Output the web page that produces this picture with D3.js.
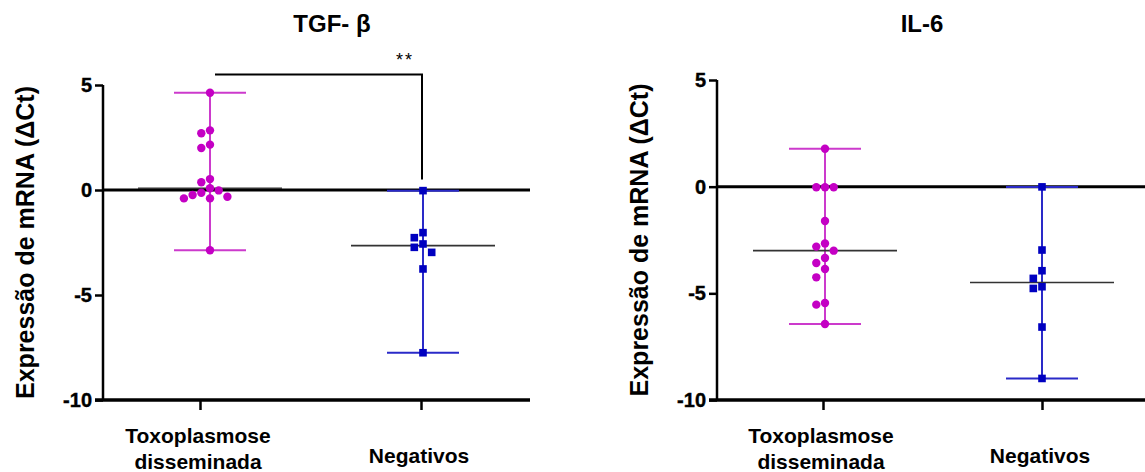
<!DOCTYPE html>
<html>
<head>
<meta charset="utf-8">
<script src="https://cdn.jsdelivr.net/npm/d3@7"></script>
<style>
  body { margin: 0; background: #fff; }
  svg text { font-family: "Liberation Sans", Arial, sans-serif; font-weight: bold; fill: #000; }
</style>
</head>
<body>
<svg width="1145" height="472"></svg>
<script>
// groups and tick labels
let categories = ['Toxoplasmose disseminada', 'Negativos'];
let yTicks = [5, 0, -5, -10];

// ΔCt values
let tgfTox = [4.63, 2.84, 2.70, 2.16, 2.00, 0.52, 0.37, 0.08, -0.02, -0.13, -0.24, -0.32, -0.40, -0.40, -2.87];
let tgfNeg = [-0.03, -2.03, -2.27, -2.57, -2.73, -2.97, -3.76, -7.75];
let il6Tox = [1.78, -0.03, -0.03, -0.03, -1.61, -2.66, -2.81, -3.00, -3.34, -3.58, -3.86, -4.25, -5.45, -5.53, -6.44];
let il6Neg = [-0.01, -2.97, -3.94, -4.30, -4.69, -4.77, -6.58, -8.99];

// significance bracket on the TGF panel: from group 0 to group 1
let tgfSig = { from: 0, to: 1, level: 5.5, drop: 0.5, label: '**' };

let svg = d3.select('svg');
let colors = ['#c400c4', '#0000c0'];
let lineColors = ['#cc3acc', '#2a2ac8'];

/**
 * draws one panel
 *
 * @param {Object} p panel layout and its series
 */
let drawPanel = (p) => {
    let g = svg.append('g');
    let y = d3.scaleLinear().domain([-10, 5]).range([400, p.yTop]);
    let x = d3.scalePoint().domain(categories).range(p.catRange);

    // title
    g.append('text').attr('x', p.titleX).attr('y', 32)
        .attr('text-anchor', 'middle').style('font-size', '24px').text(p.title);

    // y label
    g.append('text')
        .attr('transform', `translate(${p.axisX - 78}, ${(p.yTop + 400) / 2}) rotate(-90)`)
        .attr('text-anchor', 'middle').attr('dy', '0.35em')
        .style('font-size', '25px').text('Expressão de mRNA (ΔCt)');

    // y axis
    let yAxis = g.append('g').attr('transform', `translate(${p.axisX},0)`)
        .call(d3.axisLeft(y).tickValues(yTicks).tickSize(8).tickPadding(3).tickFormat(d => String(d)))
        .attr('font-family', null).attr('font-size', null);
    yAxis.select('.domain').attr('stroke-width', 2.5).attr('d', `M0,${p.yTop}V400`);
    yAxis.selectAll('.tick line').attr('stroke-width', 2.5);
    yAxis.selectAll('.tick text')
        .attr('font-family', '"Liberation Sans", Arial, sans-serif')
        .attr('font-weight', 'bold').attr('font-size', 20)
        .attr('stroke', '#000').attr('stroke-width', 0.4)
        .attr('fill', '#000');

    // x axis
    let xAxis = g.append('g').attr('transform', 'translate(0,400)')
        .call(d3.axisBottom(x).tickSize(10).tickFormat(''));
    xAxis.select('.domain').attr('stroke-width', 3.5).attr('d', `M${p.axisX - 8},0H${p.plotRight}`);
    xAxis.selectAll('.tick line').attr('stroke-width', 2.5);

    // category labels
    categories.forEach((c, i) => {
        let words = c.split(' ');
        let base = words.length > 1 ? 443 : 463;
        words.forEach((w, k) => {
            g.append('text').attr('x', x(c) - 2).attr('y', base + k * 26)
                .attr('text-anchor', 'middle').style('font-size', '21px').text(w);
        });
    });

    // zero line
    g.append('line').attr('x1', p.axisX).attr('x2', p.plotRight)
        .attr('y1', y(0)).attr('y2', y(0)).attr('stroke', '#000').attr('stroke-width', 3);

    p.series.forEach((vals, i) => {
        let cx = x(categories[i]) + p.colShift[i];
        let lo = d3.min(vals), hi = d3.max(vals), med = d3.median(vals);
        let col = g.append('g');
        col.append('line').attr('x1', cx).attr('x2', cx).attr('y1', y(hi)).attr('y2', y(lo))
            .attr('stroke', lineColors[i]).attr('stroke-width', 2);
        [hi, lo].forEach(v => col.append('line').attr('x1', cx - 36).attr('x2', cx + 36)
            .attr('y1', y(v)).attr('y2', y(v)).attr('stroke', lineColors[i]).attr('stroke-width', 2));
        col.append('line').attr('x1', cx - 72).attr('x2', cx + 72).attr('y1', y(med)).attr('y2', y(med))
            .attr('stroke', '#333').attr('stroke-width', 1.6);

        // simple beeswarm on fixed lanes
        let step = 8.7;
        let placed = [];
        vals.map(v => ({ v: v, py: y(v) })).forEach(d => {
            for (let k = 0; k < 12; k++) {
                let off = k === 0 ? 0 : (k % 2 ? -1 : 1) * Math.ceil(k / 2) * step;
                if (placed.every(q => Math.hypot(q.dx - off, q.py - d.py) >= 8.6)) {
                    d.dx = off;
                    break;
                }
            }
            placed.push(d);
        });
        let marks = col.selectAll('.pt').data(placed).enter();
        if (i === 0) {
            marks.append('circle').attr('cx', d => cx + d.dx).attr('cy', d => d.py).attr('r', 4.2)
                .attr('fill', colors[i]);
        } else {
            marks.append('rect').attr('x', d => cx + d.dx - 3.8).attr('y', d => d.py - 3.8)
                .attr('width', 7.6).attr('height', 7.6).attr('fill', colors[i]);
        }
    });

    if (p.sig) {
        let s = p.sig;
        let x1 = x(categories[s.from]) + p.colShift[s.from] + 5;
        let x2 = x(categories[s.to]) + p.colShift[s.to] - 1;
        g.append('path').attr('d', `M${x1},${y(s.level)}H${x2}V${y(s.drop)}`)
            .attr('fill', 'none').attr('stroke', '#000').attr('stroke-width', 2);
        g.append('text').attr('x', x2 - 17).attr('y', y(s.level) - 9)
            .attr('text-anchor', 'middle').style('font-size', '18px').style('font-weight', 'normal')
            .style('letter-spacing', '2px').text(s.label);
    }
};

drawPanel({ title: 'TGF- β', titleX: 332, axisX: 103, plotRight: 530, yTop: 85,
    catRange: [200, 421], colShift: [10, 2], series: [tgfTox, tgfNeg], sig: tgfSig });
drawPanel({ title: 'IL-6', titleX: 922, axisX: 717, plotRight: 1150, yTop: 80,
    catRange: [823, 1042], colShift: [2, 0], series: [il6Tox, il6Neg], sig: null });
</script>
</body>
</html>
